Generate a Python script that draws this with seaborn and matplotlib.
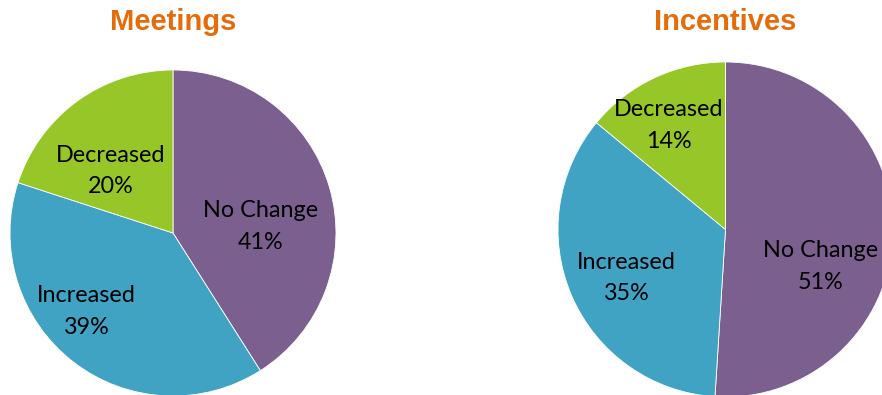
import matplotlib
matplotlib.use("Agg")
import matplotlib.pyplot as plt
import seaborn as sns

# Survey results: share of respondents per response, per programme area
categories = ["No Change", "Increased", "Decreased"]
meetings = [41, 39, 20]
incentives = [51, 35, 14]
titles = ["Meetings", "Incentives"]

sns.set_theme(style="white")
plt.rcParams["font.family"] = ["Lato", "DejaVu Sans"]

colors = ["#7B5F8E", "#40A3C4", "#97C629"]

W, H = 882, 395
fig = plt.figure(figsize=(W / 100, H / 100), dpi=100)


def px_axes(x0, y0, x1, y1):
    """Axes from pixel box (top-left origin)."""
    return fig.add_axes([x0 / W, 1 - y1 / H, (x1 - x0) / W, (y1 - y0) / H])


# pie boxes in pixels: (left, top, right, bottom)
boxes = [(10, 70, 336, 396), (558, 62, 893, 397)]
# label anchors (fractions of radius from centre), one per category
label_pos = [
    [(0.54, 0.04), (-0.53, -0.48), (-0.38, 0.38)],
    [(0.57, -0.22), (-0.59, -0.29), (-0.34, 0.62)],
]

for values, title, box, lp in zip([meetings, incentives], titles, boxes, label_pos):
    ax = px_axes(*box)
    ax.pie(values, colors=colors, startangle=90, counterclock=False,
           radius=1, wedgeprops=dict(edgecolor="white", linewidth=0.6))
    ax.set_xlim(-1, 1)
    ax.set_ylim(-1, 1)
    ax.set_aspect("equal")
    ax.axis("off")
    for cat, v, (tx, ty) in zip(categories, values, lp):
        ax.text(tx, ty, f"{cat}\n{v}%", ha="center", va="center",
                fontsize=16.8, color="black", linespacing=1.62)
    cx = (box[0] + box[2]) / 2
    fig.text(cx / W, 1 - 22 / H, title, ha="center", va="center",
             fontsize=21, fontweight="bold", color="#E46C0A",
             family=["Liberation Sans", "DejaVu Sans"])

fig.savefig("out.png", dpi=100)
